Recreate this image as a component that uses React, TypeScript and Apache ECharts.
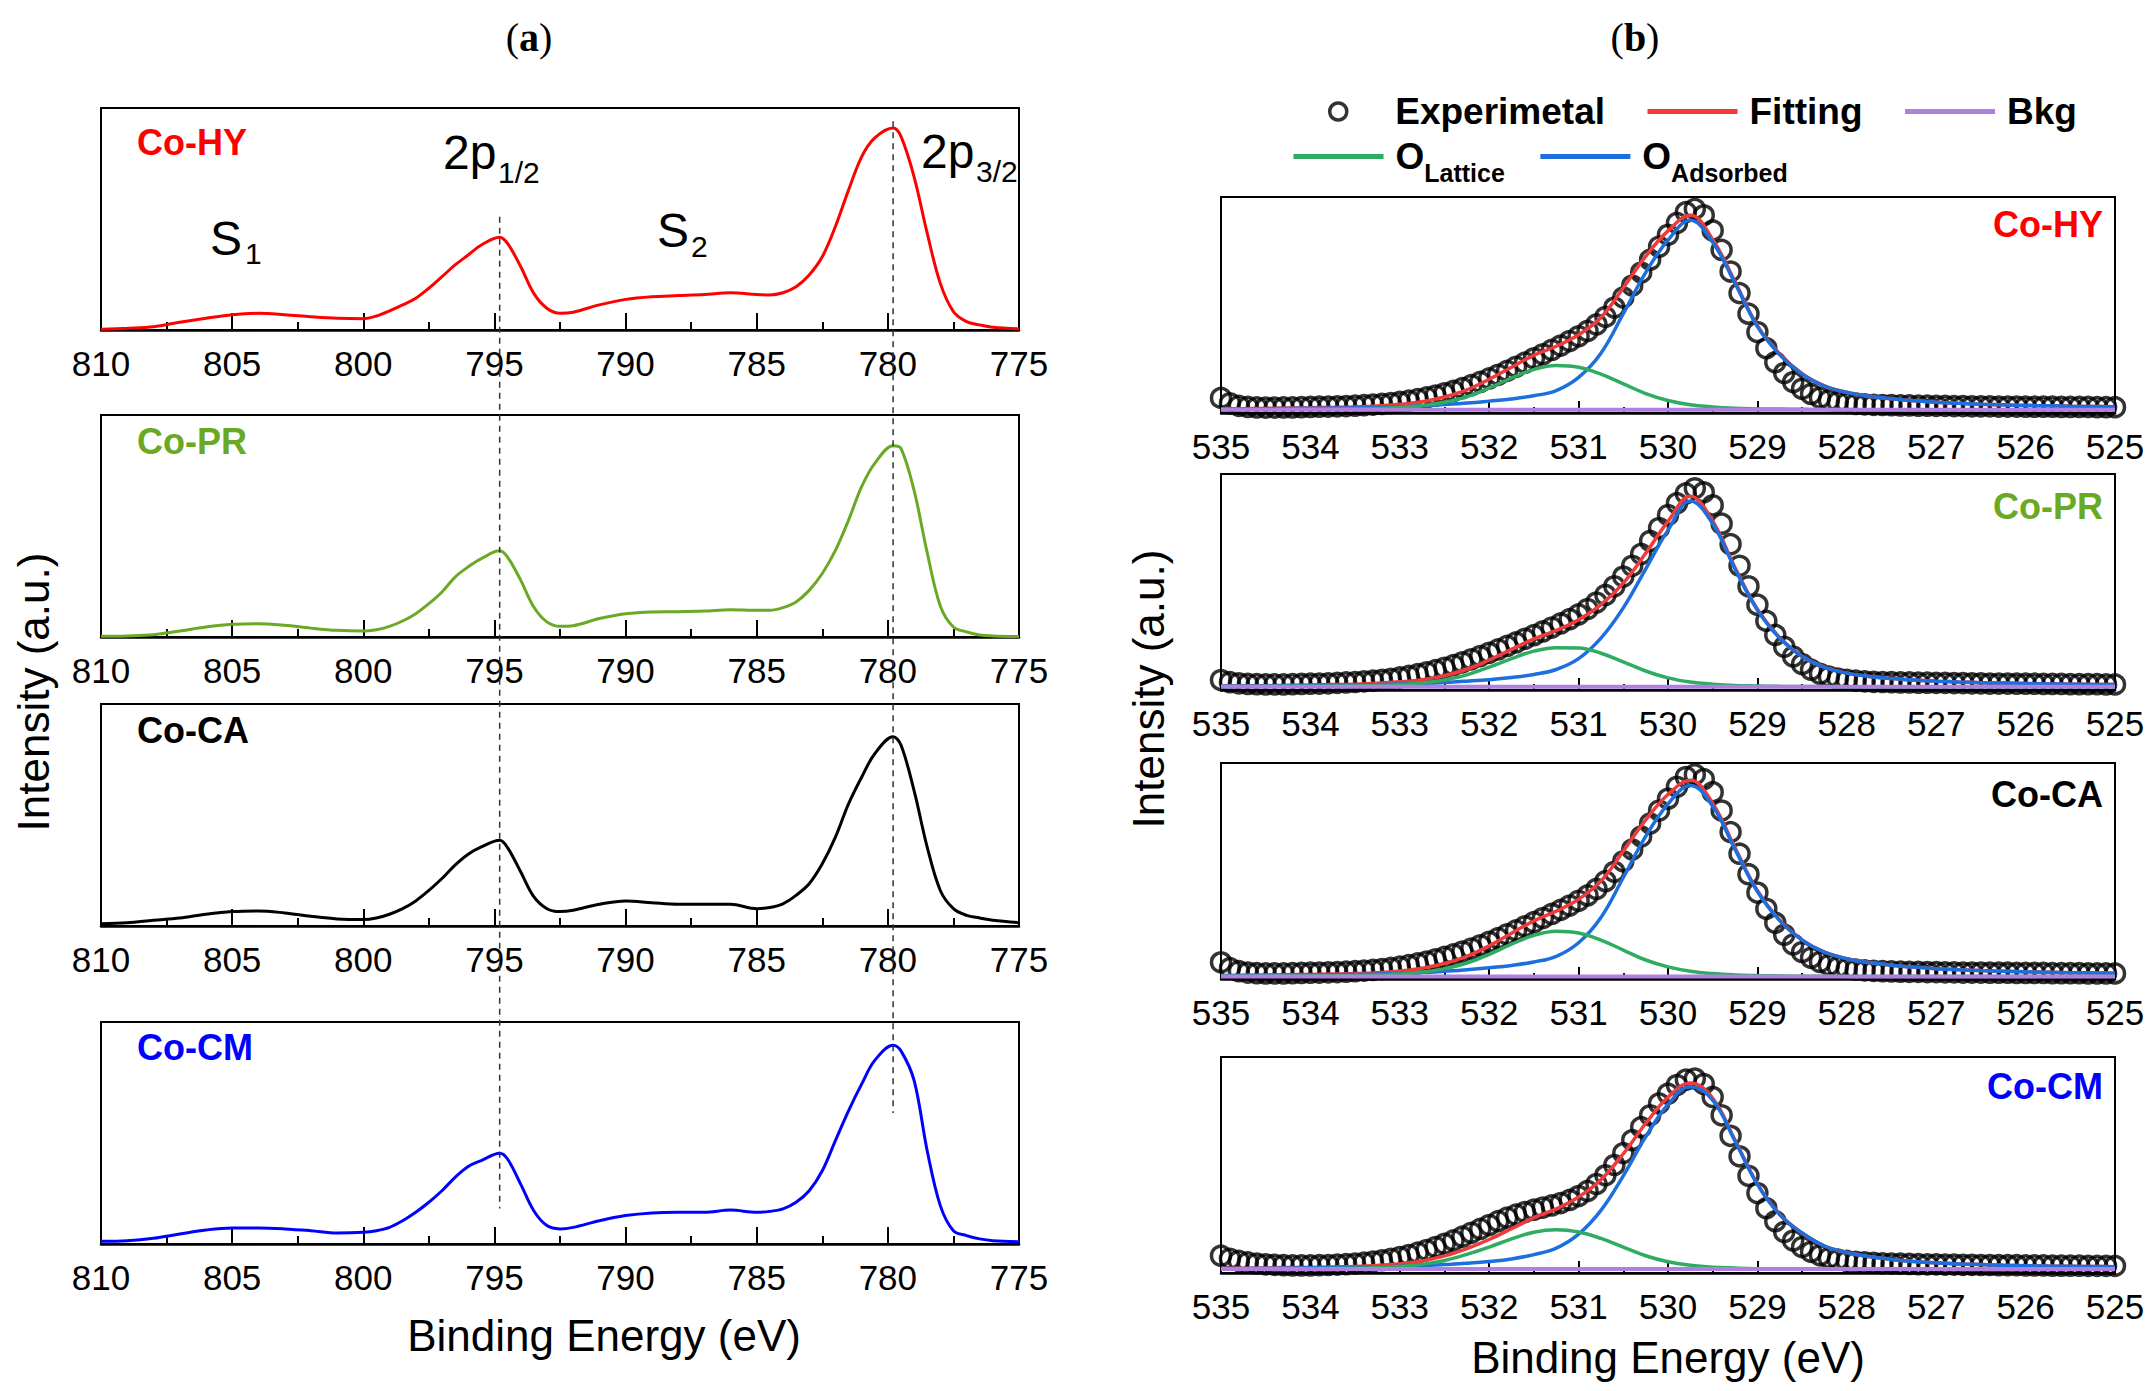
import React, { useEffect, useRef } from "react";
import * as echarts from "echarts";

const FONT = "'Liberation Sans', Arial, sans-serif";
const SERIF = "'Liberation Serif', 'Times New Roman', serif";

// ---- panel (a): Co 2p spectra ----
const energyA = [
  810, 809, 808, 807, 806, 805, 804, 803, 802, 801, 800, 799.5, 799, 798.5, 798, 797.5, 797, 796.5, 796, 795.5,
  794.8, 794.5, 794, 793.5, 793, 792.5, 792, 791, 790, 789, 788, 787, 786, 785, 784.5, 784, 783.5, 783, 782.5,
  782, 781.5, 781, 780.5, 779.8, 779.5, 779, 778.5, 778, 777.5, 777, 776.5, 776, 775,
];
const coHY = [
  0.3, 0.8, 1.5, 3.5, 5.3, 6.9, 7.5, 6.9, 6.0, 5.3, 5.1, 6.3, 8.6, 11.3, 14.3, 18.8, 24.0, 29.3, 33.8, 38.3,
  41.8, 39.0, 28.6, 16.5, 9.8, 7.5, 8.0, 11.3, 13.8, 15.0, 15.5, 16.0, 16.8, 16.0, 15.8, 16.8, 19.5, 24.8, 33.0,
  46.6, 63.0, 78.0, 86.5, 91.0, 87.2, 69.0, 43.6, 21.0, 8.3, 3.8, 2.3, 1.2, 0.5,
];
const coPR = [
  0.3, 0.5, 1.0, 2.7, 4.5, 5.7, 6.0, 5.3, 4.0, 3.0, 2.7, 3.3, 4.8, 7.2, 10.5, 15.0, 20.3, 27.0, 31.6, 35.3,
  38.8, 36.0, 25.6, 13.5, 6.8, 4.8, 5.1, 8.3, 10.5, 11.3, 11.4, 11.7, 12.3, 12.0, 12.0, 13.2, 15.8, 21.0, 28.6,
  39.0, 52.6, 67.7, 78.2, 86.2, 85.0, 66.0, 38.0, 14.0, 4.5, 2.3, 0.9, 0.5, 0.2,
];
const coCA = [
  1.0, 1.5, 2.6, 3.6, 5.3, 6.5, 6.8, 5.9, 4.4, 3.2, 2.9, 3.6, 5.3, 7.8, 11.3, 16.0, 21.4, 27.4, 32.3, 35.6,
  38.6, 35.3, 24.4, 13.2, 7.8, 6.5, 7.1, 9.8, 11.3, 10.5, 9.8, 9.8, 9.8, 7.8, 8.3, 10.0, 13.8, 19.0, 28.0,
  40.0, 55.0, 67.0, 77.6, 85.3, 81.5, 61.0, 35.5, 16.0, 7.8, 4.8, 3.6, 2.6, 1.5,
];
const coCM = [
  1.2, 1.5, 2.6, 4.5, 6.3, 7.2, 7.2, 6.8, 6.0, 5.0, 5.3, 6.0, 7.5, 10.5, 14.3, 18.8, 24.0, 30.0, 34.9, 37.6,
  40.9, 38.3, 27.0, 15.0, 8.3, 6.8, 7.5, 10.5, 12.8, 14.0, 14.3, 14.3, 15.3, 14.3, 14.7, 15.8, 18.8, 24.0, 33.0,
  46.6, 60.0, 72.0, 82.7, 89.5, 87.0, 73.7, 42.0, 17.3, 6.0, 3.8, 2.3, 1.5, 1.0,
];
const ticksA = { min: 775, max: 810, step: 5 };
const dashEnergy = [794.8, 779.8];
const dashTop = [51, 94]; // y value in the Co-HY panel
const dashBottom = [16, 59]; // y value in the Co-CM panel

// ---- panel (b): O 1s spectra ----
const energyExp = [
  535.0, 534.9, 534.8, 534.7, 534.6, 534.5, 534.4, 534.3, 534.2, 534.1, 534.0, 533.9, 533.8, 533.7, 533.6,
  533.5, 533.4, 533.3, 533.2, 533.1, 533.0, 532.9, 532.8, 532.7, 532.6, 532.5, 532.4, 532.3, 532.2, 532.1,
  532.0, 531.9, 531.8, 531.7, 531.6, 531.5, 531.4, 531.3, 531.2, 531.1, 531.0, 530.9, 530.8, 530.7, 530.6,
  530.5, 530.4, 530.3, 530.2, 530.1, 530.0, 529.9, 529.8, 529.7, 529.6, 529.5, 529.4, 529.3, 529.2, 529.1,
  529.0, 528.9, 528.8, 528.7, 528.6, 528.5, 528.4, 528.3, 528.2, 528.1, 528.0, 527.9, 527.8, 527.7, 527.6,
  527.5, 527.4, 527.3, 527.2, 527.1, 527.0, 526.9, 526.8, 526.7, 526.6, 526.5, 526.4, 526.3, 526.2, 526.1,
  526.0, 525.9, 525.8, 525.7, 525.6, 525.5, 525.4, 525.3, 525.2, 525.1, 525.0,
];
const energyFit = [
  535, 534.75, 534.5, 534.25, 534, 533.75, 533.5, 533.25, 533, 532.75, 532.5, 532.25, 532, 531.75, 531.5,
  531.25, 531, 530.75, 530.5, 530.25, 530, 529.75, 529.5, 529.25, 529, 528.75, 528.5, 528.25, 528, 527.75,
  527.5, 527.25, 527, 526.75, 526.5, 526.25, 526, 525.75, 525.5, 525.25, 525,
];

const expHY = [
  7.0, 4.5, 3.3, 2.8, 2.6, 2.5, 2.5, 2.6, 2.6, 2.7, 2.8, 2.9, 3.0, 3.1, 3.2, 3.4, 3.6, 3.9, 4.2, 4.6,
  5.1, 5.7, 6.4, 7.2, 8.1, 9.1, 10.2, 11.5, 12.9, 14.4, 16.0, 17.7, 19.5, 21.4, 23.3, 25.3, 27.2, 29.2, 31.2, 33.3,
  35.5, 38.0, 41.0, 44.5, 48.8, 53.5, 59.0, 65.0, 71.0, 77.0, 82.5, 88.0, 93.0, 94.5, 91.5, 84.5, 75.5, 65.5, 55.5, 46.0,
  37.5, 30.0, 23.5, 18.5, 14.3, 11.2, 8.8, 7.1, 5.9, 5.1, 4.6, 4.2, 4.0, 3.8, 3.7, 3.6, 3.5, 3.5, 3.4, 3.4,
  3.3, 3.3, 3.2, 3.2, 3.1, 3.1, 3.1, 3.0, 3.0, 3.0, 2.9, 2.9, 2.9, 2.9, 2.8, 2.8, 2.8, 2.8, 2.7, 2.7, 2.7,
];
const fitHY = [
  1.9, 2.0, 2.1, 2.3, 2.4, 2.6, 2.8, 3.2, 4.0, 5.2, 7.4, 10.7, 15.6, 21.2, 26.7, 30.9, 36.2, 44.2, 58.0, 72.5,
  84.3, 91.5, 80.3, 60.7, 40.4, 27.3, 18.2, 12.6, 9.6, 7.8, 6.6, 5.7, 5.0, 4.5, 4.1, 3.8, 3.5, 3.3, 3.1, 3.0, 2.9,
];
const latticeHY = [
  1.6, 1.6, 1.6, 1.7, 1.7, 1.8, 1.9, 2.1, 2.6, 3.4, 5.0, 7.6, 11.6, 16.2, 20.2, 22.0, 21.2, 18.0, 13.5, 9.0,
  5.8, 3.8, 2.8, 2.2, 1.9, 1.8, 1.7, 1.6, 1.6, 1.5, 1.5, 1.5, 1.5, 1.5, 1.5, 1.5, 1.5, 1.5, 1.5, 1.5, 1.5,
];
const adsorbedHY = [
  1.8, 1.9, 2.0, 2.1, 2.2, 2.3, 2.4, 2.6, 2.9, 3.3, 3.9, 4.6, 5.5, 6.5, 8.0, 10.4, 16.5, 27.7, 46.0, 65.0,
  80.0, 89.2, 79.0, 60.0, 40.0, 27.0, 18.0, 12.5, 9.5, 7.8, 6.6, 5.7, 5.0, 4.5, 4.1, 3.8, 3.5, 3.3, 3.1, 3.0, 2.9,
];

const expPR = [
  4.6, 3.6, 3.1, 2.8, 2.7, 2.6, 2.6, 2.6, 2.7, 2.8, 2.9, 3.0, 3.1, 3.3, 3.5, 3.7, 4.0, 4.3, 4.7, 5.2,
  5.8, 6.5, 7.3, 8.2, 9.2, 10.3, 11.5, 12.8, 14.2, 15.7, 17.2, 18.8, 20.4, 22.0, 23.7, 25.4, 27.1, 28.9, 30.8, 32.8,
  35.0, 37.5, 40.5, 44.0, 48.0, 52.5, 57.5, 63.0, 69.0, 75.0, 81.0, 86.5, 91.0, 93.4, 91.5, 85.5, 77.0, 67.5, 57.5, 48.0,
  39.5, 32.0, 25.5, 20.0, 15.5, 12.0, 9.4, 7.5, 6.2, 5.3, 4.7, 4.3, 4.0, 3.8, 3.7, 3.6, 3.5, 3.5, 3.4, 3.4,
  3.3, 3.3, 3.2, 3.2, 3.1, 3.1, 3.0, 3.0, 3.0, 2.9, 2.9, 2.9, 2.8, 2.8, 2.8, 2.7, 2.7, 2.7, 2.7, 2.6, 2.6,
];
const fitPR = [
  1.9, 2.0, 2.0, 2.2, 2.3, 2.5, 2.7, 3.1, 3.8, 4.8, 6.6, 9.6, 13.9, 18.8, 23.7, 27.6, 32.5, 39.5, 49.5, 63.3,
  78.1, 89.7, 78.2, 56.6, 37.4, 24.2, 15.6, 10.6, 7.8, 6.3, 5.3, 4.6, 4.1, 3.7, 3.4, 3.2, 3.0, 2.8, 2.7, 2.6, 2.5,
];
const latticePR = [
  1.6, 1.6, 1.6, 1.7, 1.7, 1.8, 1.9, 2.1, 2.5, 3.2, 4.6, 7.0, 10.6, 14.5, 18.0, 19.6, 19.5, 17.0, 13.0, 8.8,
  5.6, 3.7, 2.7, 2.1, 1.9, 1.7, 1.6, 1.6, 1.5, 1.5, 1.5, 1.5, 1.5, 1.5, 1.5, 1.5, 1.5, 1.5, 1.5, 1.5, 1.5,
];
const adsorbedPR = [
  1.8, 1.9, 1.9, 2.0, 2.1, 2.2, 2.3, 2.5, 2.8, 3.1, 3.5, 4.1, 4.8, 5.8, 7.2, 9.5, 14.5, 24.0, 38.0, 56.0,
  74.0, 87.5, 77.0, 56.0, 37.0, 24.0, 15.5, 10.5, 7.8, 6.3, 5.3, 4.6, 4.1, 3.7, 3.4, 3.2, 3.0, 2.8, 2.7, 2.6, 2.5,
];

const expCA = [
  7.7, 5.0, 3.6, 3.0, 2.7, 2.6, 2.6, 2.6, 2.7, 2.8, 2.9, 3.0, 3.1, 3.2, 3.4, 3.6, 3.9, 4.2, 4.6, 5.1,
  5.7, 6.4, 7.2, 8.1, 9.1, 10.2, 11.4, 12.7, 14.1, 15.6, 17.2, 18.9, 20.7, 22.5, 24.4, 26.3, 28.2, 30.1, 32.0, 34.0,
  36.2, 38.7, 41.7, 45.3, 49.6, 54.5, 60.0, 66.0, 72.0, 78.0, 83.5, 89.0, 93.5, 94.7, 92.5, 86.5, 78.0, 68.0, 58.0, 48.5,
  40.0, 32.5, 26.0, 20.5, 16.0, 12.5, 9.8, 7.9, 6.5, 5.5, 4.8, 4.3, 4.0, 3.8, 3.6, 3.5, 3.4, 3.3, 3.3, 3.2,
  3.2, 3.1, 3.1, 3.0, 3.0, 3.0, 2.9, 2.9, 2.9, 2.8, 2.8, 2.8, 2.8, 2.7, 2.7, 2.7, 2.7, 2.6, 2.6, 2.6, 2.6,
];
const fitCA = [
  1.6, 1.7, 1.8, 2.0, 2.1, 2.3, 2.5, 2.9, 3.7, 5.0, 7.2, 10.5, 15.4, 21.2, 26.9, 31.4, 36.9, 45.3, 59.2, 73.6,
  85.4, 92.0, 81.3, 60.7, 40.9, 27.2, 18.1, 12.5, 9.4, 7.6, 6.4, 5.5, 4.8, 4.3, 3.9, 3.6, 3.3, 3.1, 2.9, 2.8, 2.7,
];
const latticeCA = [
  1.3, 1.3, 1.3, 1.4, 1.4, 1.5, 1.6, 1.8, 2.3, 3.2, 4.8, 7.4, 11.4, 16.1, 20.2, 22.1, 21.3, 18.0, 13.4, 8.8,
  5.6, 3.6, 2.5, 1.9, 1.6, 1.4, 1.3, 1.3, 1.2, 1.2, 1.2, 1.2, 1.2, 1.2, 1.2, 1.2, 1.2, 1.2, 1.2, 1.2, 1.2,
];
const adsorbedCA = [
  1.5, 1.6, 1.7, 1.8, 1.9, 2.0, 2.1, 2.3, 2.6, 3.0, 3.6, 4.3, 5.2, 6.3, 7.9, 10.5, 16.8, 28.5, 47.0, 66.0,
  81.0, 89.6, 80.0, 60.0, 40.5, 27.0, 18.0, 12.4, 9.4, 7.6, 6.4, 5.5, 4.8, 4.3, 3.9, 3.6, 3.3, 3.1, 2.9, 2.8, 2.7,
];

const expCM = [
  8.0, 6.6, 5.6, 4.9, 4.4, 4.0, 3.8, 3.6, 3.5, 3.5, 3.5, 3.6, 3.7, 3.9, 4.1, 4.4, 4.8, 5.3, 5.9, 6.6,
  7.4, 8.3, 9.4, 10.6, 12.0, 13.5, 15.1, 16.8, 18.6, 20.4, 22.2, 24.0, 25.6, 27.0, 28.2, 29.3, 30.3, 31.3, 32.4, 33.8,
  35.6, 38.0, 41.2, 45.2, 50.0, 55.5, 61.5, 67.5, 73.0, 78.5, 83.0, 87.0, 89.5, 90.0, 87.5, 81.5, 73.0, 63.5, 54.0, 45.0,
  37.0, 30.0, 24.0, 19.0, 15.0, 12.0, 9.8, 8.2, 7.0, 6.2, 5.6, 5.2, 4.9, 4.7, 4.5, 4.4, 4.3, 4.2, 4.1, 4.0,
  4.0, 3.9, 3.9, 3.8, 3.8, 3.7, 3.7, 3.6, 3.6, 3.6, 3.5, 3.5, 3.5, 3.4, 3.4, 3.4, 3.4, 3.3, 3.3, 3.3, 3.3,
];
const fitCM = [
  2.2, 2.2, 2.3, 2.5, 2.6, 2.8, 3.0, 3.5, 4.3, 5.6, 7.9, 11.3, 15.5, 20.5, 25.6, 29.7, 35.2, 43.2, 55.2, 69.2,
  81.4, 88.0, 80.9, 61.5, 41.2, 27.1, 18.5, 12.5, 9.5, 7.6, 6.3, 5.3, 4.7, 4.2, 3.9, 3.6, 3.4, 3.2, 3.1, 3.0, 2.9,
];
const latticeCM = [
  1.9, 1.9, 1.9, 2.0, 2.0, 2.1, 2.2, 2.5, 3.0, 4.0, 5.8, 8.6, 12.0, 15.8, 18.9, 20.0, 19.0, 16.0, 12.0, 8.0,
  5.2, 3.6, 2.7, 2.3, 2.0, 1.9, 1.8, 1.8, 1.8, 1.8, 1.8, 1.8, 1.8, 1.8, 1.8, 1.8, 1.8, 1.8, 1.8, 1.8, 1.8,
];
const adsorbedCM = [
  2.1, 2.1, 2.2, 2.3, 2.4, 2.5, 2.6, 2.8, 3.1, 3.4, 3.9, 4.5, 5.3, 6.5, 8.5, 11.5, 18.0, 29.0, 45.0, 63.0,
  78.0, 86.2, 80.0, 61.0, 41.0, 27.0, 18.5, 12.5, 9.5, 7.6, 6.3, 5.3, 4.7, 4.2, 3.9, 3.6, 3.4, 3.2, 3.1, 3.0, 2.9,
];
const bkgLevel = [1.5, 1.5, 1.2, 1.8];
const ticksB = { min: 525, max: 535, step: 1 };

const samples = ["Co-HY", "Co-PR", "Co-CA", "Co-CM"];
const sampleColors = ["#ff0000", "#6aa924", "#000000", "#0000ff"];
const spectraA = [coHY, coPR, coCA, coCM];
const expB = [expHY, expPR, expCA, expCM];
const fitB = [fitHY, fitPR, fitCA, fitCM];
const latticeB = [latticeHY, latticePR, latticeCA, latticeCM];
const adsorbedB = [adsorbedHY, adsorbedPR, adsorbedCA, adsorbedCM];

const FIT_RED = "#ef3b3b";
const ADS_BLUE = "#1c6fdc";
const LAT_GREEN = "#2fab62";
const BKG_PURPLE = "#b07fe0";

const pairs = (xs: number[], ys: number[]) => xs.map((x, i) => [x, ys[i]]);

function energyAxis(gridIndex: number, t: { min: number; max: number; step: number }, major: number, minor: number) {
  return {
    gridIndex,
    type: "value",
    min: t.min,
    max: t.max,
    interval: t.step,
    inverse: true,
    axisLine: { onZero: false, lineStyle: { color: "#000", width: 2.5 } },
    axisTick: { inside: true, length: major, lineStyle: { color: "#000", width: 2 } },
    minorTick: { show: true, splitNumber: 2, length: minor, lineStyle: { color: "#000", width: 2 } },
    axisLabel: { fontSize: 35, color: "#000", fontFamily: FONT, margin: 16 },
    splitLine: { show: false },
    minorSplitLine: { show: false },
  };
}

// legend entry for a line series: line only, no marker in the middle
const lineEntry = (name: string, color: string) => ({
  name,
  itemStyle: { opacity: 0 },
  lineStyle: { color, width: 5 },
});

function buildOption() {
  const topsA = [108, 415, 704, 1022];
  const topsB = [197, 474, 763, 1057];
  const grid: any[] = [];
  const xAxis: any[] = [];
  const yAxis: any[] = [];
  const series: any[] = [];

  topsA.forEach((top, i) => {
    grid.push({ left: 101, top, width: 918, height: 222, show: true, borderColor: "#000", borderWidth: 2 });
    xAxis.push(energyAxis(i, ticksA, 17, 8));
    yAxis.push({ gridIndex: i, type: "value", min: 0, max: 100, show: false });
    series.push({
      name: samples[i],
      type: "line",
      xAxisIndex: i,
      yAxisIndex: i,
      data: pairs(energyA, spectraA[i]),
      symbol: "none",
      smooth: 0.35,
      lineStyle: { color: sampleColors[i], width: 3 },
    });
  });

  topsB.forEach((top, j) => {
    const i = j + 4;
    grid.push({ left: 1221, top, width: 894, height: 216, show: true, borderColor: "#000", borderWidth: 2 });
    xAxis.push(energyAxis(i, ticksB, 12, 6));
    yAxis.push({ gridIndex: i, type: "value", min: 0, max: 100, show: false });
    series.push(
      {
        name: "Experimetal",
        type: "scatter",
        xAxisIndex: i,
        yAxisIndex: i,
        data: pairs(energyExp, expB[j]),
        symbol: "circle",
        symbolSize: 19,
        itemStyle: { color: "rgba(0,0,0,0)", borderColor: "#000", borderWidth: 3.5 },
      },
      {
        name: "Fitting",
        type: "line",
        xAxisIndex: i,
        yAxisIndex: i,
        data: pairs(energyFit, fitB[j]),
        symbol: "none",
        smooth: 0.4,
        lineStyle: { color: FIT_RED, width: 3.5 },
        itemStyle: { color: FIT_RED },
      },
      {
        name: "OAdsorbed",
        type: "line",
        xAxisIndex: i,
        yAxisIndex: i,
        data: pairs(energyFit, adsorbedB[j]),
        symbol: "none",
        smooth: 0.4,
        lineStyle: { color: ADS_BLUE, width: 3.5 },
        itemStyle: { color: ADS_BLUE },
      },
      {
        name: "OLattice",
        type: "line",
        xAxisIndex: i,
        yAxisIndex: i,
        data: pairs(energyFit, latticeB[j]),
        symbol: "none",
        smooth: 0.4,
        lineStyle: { color: LAT_GREEN, width: 3.5 },
        itemStyle: { color: LAT_GREEN },
      },
      {
        name: "Bkg",
        type: "line",
        xAxisIndex: i,
        yAxisIndex: i,
        data: [
          [ticksB.max, bkgLevel[j]],
          [ticksB.min, bkgLevel[j]],
        ],
        symbol: "none",
        lineStyle: { color: BKG_PURPLE, width: 4 },
        itemStyle: { color: BKG_PURPLE },
      }
    );
  });

  const legendText = { fontSize: 37, fontWeight: "bold", color: "#000", fontFamily: FONT, padding: [0, 0, 0, 7] };

  return {
    animation: false,
    backgroundColor: "#fff",
    grid,
    xAxis,
    yAxis,
    series,
    legend: [
      {
        data: [
          { name: "Experimetal", itemStyle: { borderWidth: 3.5 } },
          lineEntry("Fitting", FIT_RED),
          lineEntry("Bkg", BKG_PURPLE),
        ],
        left: 1328,
        top: 93,
        padding: 0,
        itemWidth: 90,
        itemHeight: 17,
        itemGap: 40,
        selectedMode: false,
        textStyle: legendText,
      },
      {
        data: [lineEntry("OLattice", LAT_GREEN), lineEntry("OAdsorbed", ADS_BLUE)],
        left: 1291,
        top: 138,
        padding: 0,
        itemWidth: 90,
        itemHeight: 17,
        itemGap: 33,
        selectedMode: false,
        formatter: (name: string) => `{o|O}{s|${name.slice(1)}}`,
        textStyle: {
          ...legendText,
          rich: {
            o: { fontSize: 37, fontWeight: "bold", fontFamily: FONT, color: "#000", lineHeight: 58, verticalAlign: "middle" },
            s: { fontSize: 25, fontWeight: "bold", fontFamily: FONT, color: "#000", lineHeight: 18, verticalAlign: "bottom" },
          },
        },
      },
    ],
  };
}

function label(text: string, x: number, y: number, fontSize: number, extra: any = {}) {
  return {
    type: "text",
    x,
    y,
    z: 20,
    style: { text, fontSize, fontFamily: FONT, fill: "#000", align: "left", verticalAlign: "middle", ...extra },
  };
}

export default function App() {
  const chartRef = useRef<HTMLDivElement>(null);

  useEffect(() => {
    const chart = echarts.init(chartRef.current!, null, { renderer: "svg" });
    chart.setOption(buildOption());

    const guides = dashEnergy.map((e, k) => {
      const p1 = chart.convertToPixel({ gridIndex: 0 }, [e, dashTop[k]]) as number[];
      const p2 = chart.convertToPixel({ gridIndex: 3 }, [e, dashBottom[k]]) as number[];
      return {
        type: "line",
        z: 15,
        shape: { x1: p1[0], y1: p1[1], x2: p2[0], y2: p2[1] },
        style: { stroke: "#333", lineWidth: 1.5, lineDash: [6, 5] },
      };
    });

    const labelYA = [142.5, 441.5, 730.5, 1047.5];
    const labelYB = [224.5, 506.5, 794.5, 1086.5];
    const sampleLabels: any[] = [];
    samples.forEach((s, i) => {
      sampleLabels.push(label(s, 137, labelYA[i], 36, { fontWeight: "bold", fill: sampleColors[i] }));
      sampleLabels.push(label(s, 2103, labelYB[i], 36, { fontWeight: "bold", fill: sampleColors[i], align: "right" }));
    });

    const panelTitle = (letter: string, x: number) => ({
      type: "text",
      x,
      y: 37,
      style: {
        text: `{p|(}{l|${letter}}{p|)}`,
        align: "center",
        verticalAlign: "middle",
        rich: {
          p: { fontSize: 40, fontFamily: SERIF, fill: "#000" },
          l: { fontSize: 40, fontFamily: SERIF, fontWeight: "bold", fill: "#000" },
        },
      },
    });

    chart.setOption({
      graphic: [
        panelTitle("a", 529),
        panelTitle("b", 1635),
        label("2p", 443, 152.5, 48),
        label("1/2", 498, 172.5, 30),
        label("S", 210, 238, 48),
        label("1", 245, 253, 30),
        label("S", 657, 230, 48),
        label("2", 691, 246, 30),
        label("2p", 921, 151, 48),
        label("3/2", 976, 171, 30),
        label("Binding Energy (eV)", 604, 1335, 44, { align: "center" }),
        label("Binding Energy (eV)", 1668, 1357, 44, { align: "center" }),
        { ...label("Intensity (a.u.)", 33, 692, 44, { align: "center" }), rotation: Math.PI / 2 },
        { ...label("Intensity (a.u.)", 1148, 689, 44, { align: "center" }), rotation: Math.PI / 2 },
        ...sampleLabels,
        ...guides,
      ],
    });

    return () => {
      chart.dispose();
    };
  }, []);

  return (
    <div style={{ position: "absolute", left: 0, top: 0, width: 2156, height: 1391, background: "#fff" }}>
      <div ref={chartRef} style={{ width: 2156, height: 1391 }} />
    </div>
  );
}
